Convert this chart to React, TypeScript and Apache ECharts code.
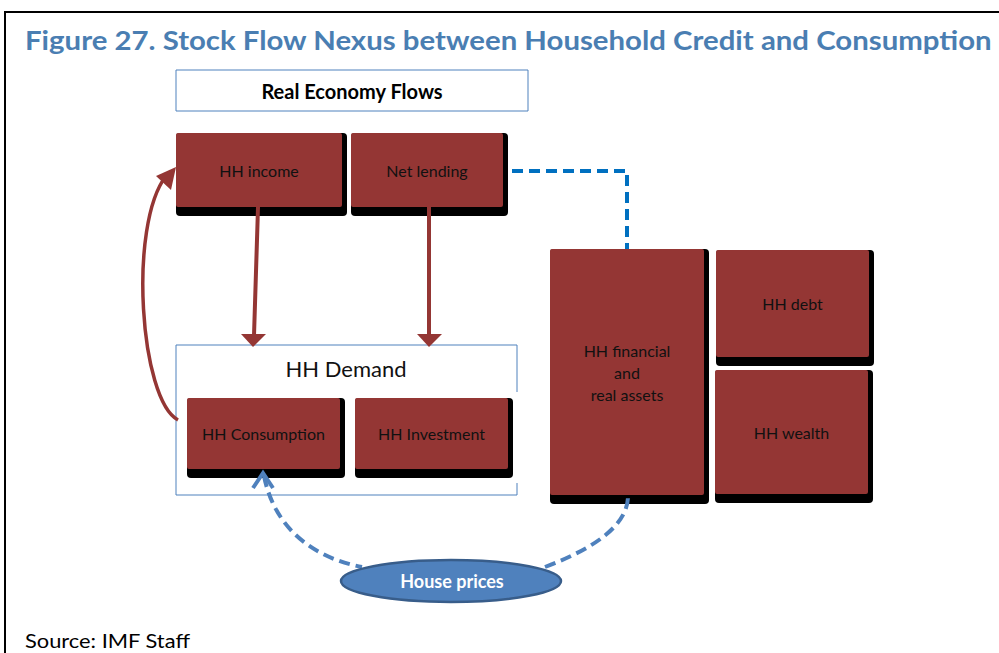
import React, { useEffect, useRef } from "react";
import * as echarts from "echarts";

const titleText = "Figure 27. Stock Flow Nexus between Household Credit and Consumption";
const sourceText = "Source: IMF Staff";
const headerLabel = "Real Economy Flows";
const demandLabel = "HH Demand";
const flowBoxes = ["HH income", "Net lending"];
const demandBoxes = ["HH Consumption", "HH Investment"];
const stockBoxes = ["HH financial\nand\nreal assets", "HH debt", "HH wealth"];
const priceLabel = "House prices";

const RED = "#943634";
const BLUE = "#4F81BD";
const DASHBLUE = "#0070C0";
const FONT = "Lato";

function box(x: number, y: number, w: number, h: number, label: string, lh = 22) {
  return [
    { type: "rect", shape: { x, y, width: w + 5, height: h + 9, r: 4 }, style: { fill: "#000" } },
    { type: "rect", shape: { x, y, width: w, height: h, r: 2 }, style: { fill: RED } },
    {
      type: "text",
      x: x + w / 2,
      y: y + h / 2,
      style: {
        text: label,
        fill: "#111",
        font: `16px ${FONT}`,
        align: "center",
        verticalAlign: "middle",
        lineHeight: lh,
      },
    },
  ];
}

export default function App() {
  const ref = useRef<HTMLDivElement>(null);
  useEffect(() => {
    document.body.style.margin = "0";
    const chart = echarts.init(ref.current!, null, { renderer: "svg" });
    const els: any[] = [];
    // frame
    els.push({ type: "polyline", shape: { points: [[5, 660], [5, 12], [1005, 12]] }, style: { stroke: "#000", lineWidth: 2, fill: null } });
    // title
    els.push({ type: "text", x: 25, y: 40, scaleX: 1.13, style: { text: titleText, fill: "#4A7EB2", font: `bold 26px ${FONT}`, verticalAlign: "middle" } });
    // header box
    els.push({ type: "rect", shape: { x: 176, y: 70, width: 352, height: 41 }, style: { fill: "#fff", stroke: BLUE, lineWidth: 1 } });
    els.push({ type: "text", x: 352, y: 91, style: { text: headerLabel, fill: "#000", font: `bold 20px ${FONT}`, align: "center", verticalAlign: "middle" } });

    // demand frame
    els.push({ type: "polyline", shape: { points: [[517, 392], [517, 345], [176, 345], [176, 495], [517, 495], [517, 483]] }, style: { stroke: BLUE, lineWidth: 1, fill: null } });
    els.push({ type: "text", x: 346, y: 368, style: { text: demandLabel, fill: "#111", font: `22px ${FONT}`, align: "center", verticalAlign: "middle" } });

    // blue dashed net lending link
    els.push({ type: "polyline", shape: { points: [[512, 171], [627, 171], [627, 249]] }, style: { stroke: DASHBLUE, lineWidth: 4, fill: null, lineDash: [11, 6] } });

    // flow boxes
    els.push(...box(176, 133, 166, 74, flowBoxes[0]));
    els.push(...box(351, 133, 152, 74, flowBoxes[1]));
    // demand boxes
    els.push(...box(187, 398, 153, 71, demandBoxes[0]));
    els.push(...box(355, 398, 153, 71, demandBoxes[1]));
    // stock boxes
    els.push(...box(550, 249, 154, 246, stockBoxes[0]));
    els.push(...box(716, 250, 153, 107, stockBoxes[1]));
    els.push(...box(715, 370, 153, 124, stockBoxes[2]));

    // red down arrows
    els.push({ type: "line", shape: { x1: 258, y1: 207, x2: 254, y2: 336 }, style: { stroke: RED, lineWidth: 4 } });
    els.push({ type: "polygon", shape: { points: [[241, 334], [266, 334], [253, 347]] }, style: { fill: RED } });
    els.push({ type: "line", shape: { x1: 429, y1: 207, x2: 429, y2: 336 }, style: { stroke: RED, lineWidth: 4 } });
    els.push({ type: "polygon", shape: { points: [[417, 334], [442, 334], [429, 347]] }, style: { fill: RED } });

    // red curved feedback arrow
    els.push({ type: "bezierCurve", shape: { x1: 178, y1: 420, cpx1: 140, cpy1: 400, cpx2: 128, cpy2: 225, x2: 166, y2: 176 }, style: { stroke: RED, lineWidth: 3.5, fill: null } });
    els.push({ type: "polygon", shape: { points: [[176, 167], [156, 176], [171, 190]] }, style: { fill: RED } });

    // bottom dashed curves
    els.push({ type: "bezierCurve", shape: { x1: 264, y1: 476, cpx1: 275, cpy1: 530, cpx2: 315, cpy2: 558, x2: 362, y2: 567 }, style: { stroke: BLUE, lineWidth: 4, fill: null, lineDash: [11, 6] } });
    els.push({ type: "polyline", shape: { points: [[253, 488], [263, 473], [273, 488]] }, style: { stroke: BLUE, lineWidth: 4, fill: null } });
    els.push({ type: "bezierCurve", shape: { x1: 545, y1: 567, cpx1: 595, cpy1: 548, cpx2: 628, cpy2: 525, x2: 628, y2: 496 }, style: { stroke: BLUE, lineWidth: 4, fill: null, lineDash: [11, 6] } });

    // house prices ellipse
    els.push({ type: "ellipse", shape: { cx: 451, cy: 581, rx: 110, ry: 21 }, style: { fill: BLUE, stroke: "#385D8A", lineWidth: 2.5 } });
    els.push({ type: "text", x: 452, y: 581, style: { text: priceLabel, fill: "#fff", font: `bold 18px ${FONT}`, align: "center", verticalAlign: "middle" } });

    // source
    els.push({ type: "text", x: 25, y: 641, scaleX: 1.15, style: { text: sourceText, fill: "#000", font: `19px ${FONT}`, verticalAlign: "middle" } });

    chart.setOption({ animation: false, graphic: { elements: els } });
    return () => chart.dispose();
  }, []);
  return <div ref={ref} style={{ width: 999, height: 653, background: "#fff" }} />;
}
